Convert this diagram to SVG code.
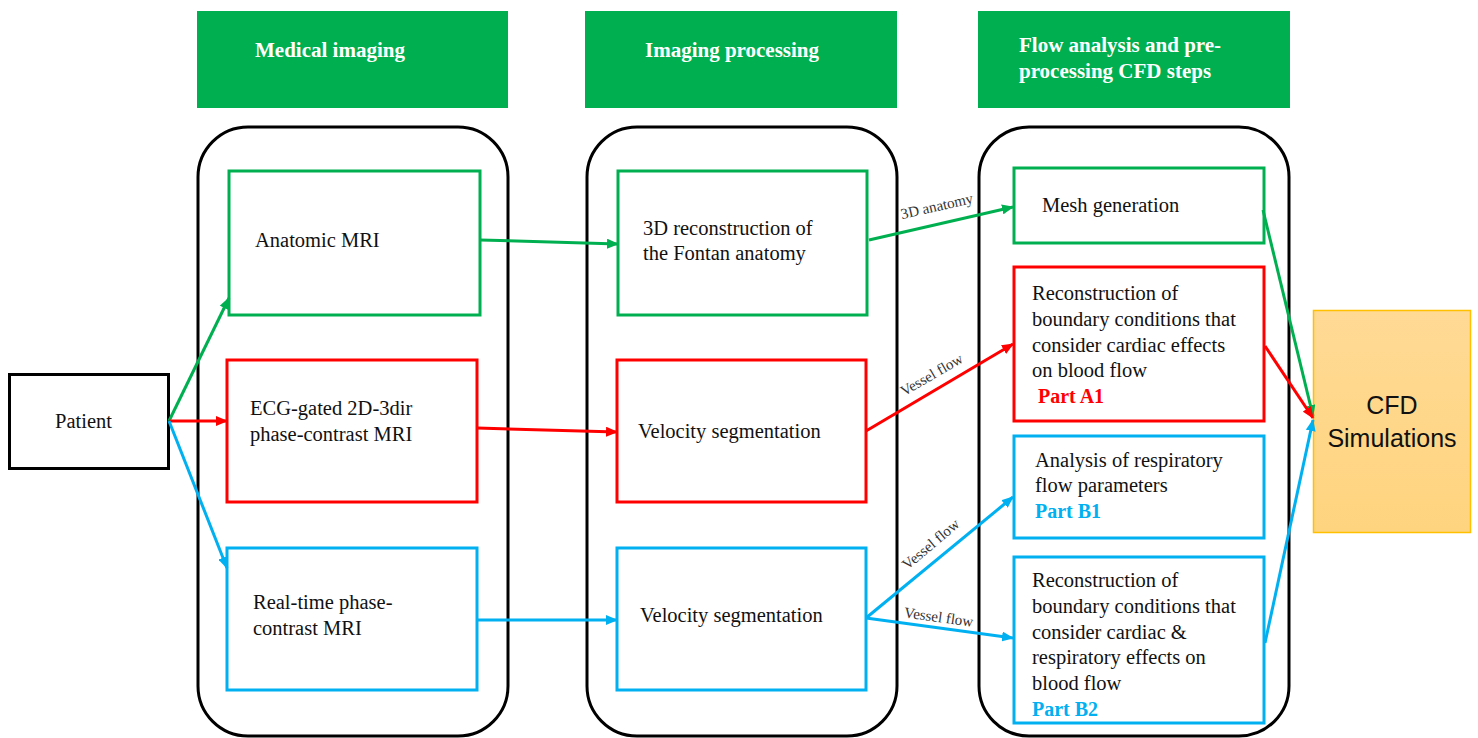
<svg xmlns="http://www.w3.org/2000/svg" width="1478" height="738" viewBox="0 0 1478 738">
<defs>
<style>
.hdr{fill:#00B050}
.hdrt{font-family:"Liberation Serif",serif;font-weight:bold;font-size:21px;fill:#ffffff}
.cont{fill:none;stroke:#000;stroke-width:3}
.g{fill:#fff;stroke:#00B050;stroke-width:3}
.r{fill:#fff;stroke:#FF0000;stroke-width:3}
.b{fill:#fff;stroke:#00B0F0;stroke-width:3}
.t{font-family:"Liberation Serif",serif;font-size:20.5px;fill:#111}
.pa{font-family:"Liberation Serif",serif;font-size:20px;font-weight:bold;fill:#FF0000}
.pb{font-family:"Liberation Serif",serif;font-size:20px;font-weight:bold;fill:#00B0F0}
.lbl{font-family:"Liberation Serif",serif;font-size:15px;fill:#333}
.cg{stroke:#00B050;stroke-width:3;fill:none}
.cr{stroke:#FF0000;stroke-width:3;fill:none}
.cb{stroke:#00B0F0;stroke-width:3;fill:none}
.cfd{font-family:"Liberation Sans","Open Sans",sans-serif;font-size:25px;fill:#111}
</style>
<marker id="mg" markerUnits="userSpaceOnUse" markerWidth="12" markerHeight="10" refX="11" refY="5" orient="auto"><path d="M0,0 L12,5 L0,10 z" fill="#00B050"/></marker>
<marker id="mr" markerUnits="userSpaceOnUse" markerWidth="12" markerHeight="10" refX="11" refY="5" orient="auto"><path d="M0,0 L12,5 L0,10 z" fill="#FF0000"/></marker>
<marker id="mb" markerUnits="userSpaceOnUse" markerWidth="12" markerHeight="10" refX="11" refY="5" orient="auto"><path d="M0,0 L12,5 L0,10 z" fill="#00B0F0"/></marker>
<linearGradient id="og" x1="0" y1="0" x2="0" y2="1"><stop offset="0" stop-color="#FFDA95"/><stop offset="1" stop-color="#FFD47F"/></linearGradient>
</defs>
<rect width="1478" height="738" fill="#fff"/>

<g id="headers">
<g id="hdr-medical"><rect class="hdr" x="197" y="11" width="311" height="97"/><text class="hdrt" x="255" y="57">Medical imaging</text></g>
<g id="hdr-processing"><rect class="hdr" x="585" y="11" width="312" height="97"/><text class="hdrt" x="645" y="57">Imaging processing</text></g>
<g id="hdr-flow"><rect class="hdr" x="978" y="11" width="312" height="97"/><text class="hdrt" x="1019" y="52">Flow analysis and pre-</text><text class="hdrt" x="1019" y="78">processing CFD steps</text></g>
</g>

<g id="containers">
<rect class="cont" x="198" y="127" width="310" height="609" rx="50"/>
<rect class="cont" x="587" y="127" width="310" height="609" rx="50"/>
<rect class="cont" x="979" y="127" width="310" height="609" rx="50"/>
</g>

<g id="patient"><rect x="9.5" y="374.5" width="159" height="94" fill="#fff" stroke="#000" stroke-width="3"/><text class="t" x="55" y="428">Patient</text></g>

<g id="anatomic-mri"><rect class="g" x="229" y="171" width="251" height="144"/><text class="t" x="255" y="247">Anatomic MRI</text></g>
<g id="ecg-mri"><rect class="r" x="227" y="360" width="250" height="142"/><text class="t" x="250" y="415">ECG-gated 2D-3dir</text><text class="t" x="250" y="441">phase-contrast MRI</text></g>
<g id="realtime-mri"><rect class="b" x="227" y="548" width="250" height="142"/><text class="t" x="253" y="609">Real-time  phase-</text><text class="t" x="253" y="635">contrast MRI</text></g>

<g id="recon3d"><rect class="g" x="618" y="171" width="249" height="144"/><text class="t" x="643" y="235">3D reconstruction of</text><text class="t" x="643" y="260">the Fontan anatomy</text></g>
<g id="vel-red"><rect class="r" x="617" y="360" width="249" height="142"/><text class="t" x="638" y="438">Velocity  segmentation</text></g>
<g id="vel-blue"><rect class="b" x="617" y="548" width="249" height="142"/><text class="t" x="640" y="622">Velocity  segmentation</text></g>

<g id="mesh"><rect class="g" x="1014" y="168" width="250" height="75"/><text class="t" x="1042" y="212">Mesh generation</text></g>
<g id="part-a1"><rect class="r" x="1014" y="267" width="250" height="154"/>
<text class="t" x="1032" y="300">Reconstruction of</text><text class="t" x="1032" y="326">boundary conditions that</text><text class="t" x="1032" y="352">consider cardiac effects</text><text class="t" x="1032" y="377">on blood flow</text><text class="pa" x="1038" y="403">Part A1</text></g>
<g id="part-b1"><rect class="b" x="1014" y="436" width="250" height="102"/>
<text class="t" x="1035" y="467">Analysis  of respiratory</text><text class="t" x="1035" y="492">flow  parameters</text><text class="pb" x="1035" y="518">Part B1</text></g>
<g id="part-b2"><rect class="b" x="1014" y="557" width="250" height="166"/>
<text class="t" x="1032" y="587">Reconstruction of</text><text class="t" x="1032" y="613">boundary conditions that</text><text class="t" x="1032" y="639">consider cardiac &amp;</text><text class="t" x="1032" y="664">respiratory effects on</text><text class="t" x="1032" y="690">blood flow</text><text class="pb" x="1032" y="716">Part B2</text></g>

<g id="cfd"><rect x="1313.5" y="310.5" width="157" height="222" fill="url(#og)" stroke="#FFC000" stroke-width="1.5"/><text class="cfd" x="1392" y="414" text-anchor="middle">CFD</text><text class="cfd" x="1392" y="447" text-anchor="middle">Simulations</text></g>

<g id="connectors">
<line class="cg" x1="169" y1="421" x2="229" y2="298" marker-end="url(#mg)"/>
<line class="cr" x1="169" y1="421" x2="227" y2="421" marker-end="url(#mr)"/>
<line class="cb" x1="169" y1="421" x2="227" y2="568" marker-end="url(#mb)"/>
<line class="cg" x1="480" y1="240" x2="618" y2="244" marker-end="url(#mg)"/>
<line class="cr" x1="477" y1="428" x2="617" y2="432" marker-end="url(#mr)"/>
<line class="cb" x1="477" y1="620" x2="617" y2="620" marker-end="url(#mb)"/>
<line class="cg" x1="869" y1="240" x2="1013" y2="207" marker-end="url(#mg)"/>
<line class="cr" x1="866" y1="431" x2="1013" y2="344" marker-end="url(#mr)"/>
<line class="cb" x1="866" y1="618" x2="1013" y2="497" marker-end="url(#mb)"/>
<line class="cb" x1="866" y1="618" x2="1013" y2="638" marker-end="url(#mb)"/>
<line class="cg" x1="1263" y1="210" x2="1313" y2="416" marker-end="url(#mg)"/>
<line class="cr" x1="1265" y1="346" x2="1313" y2="418" marker-end="url(#mr)"/>
<line class="cb" x1="1265" y1="643" x2="1313" y2="420" marker-end="url(#mb)"/>
<text class="lbl" text-anchor="middle" transform="translate(938,211) rotate(-13)">3D anatomy</text>
<text class="lbl" text-anchor="middle" transform="translate(934,379) rotate(-30)">Vessel flow</text>
<text class="lbl" text-anchor="middle" transform="translate(934,548) rotate(-40)">Vessel flow</text>
<text class="lbl" text-anchor="middle" transform="translate(938,622) rotate(8)">Vessel flow</text>
</g>
</svg>
